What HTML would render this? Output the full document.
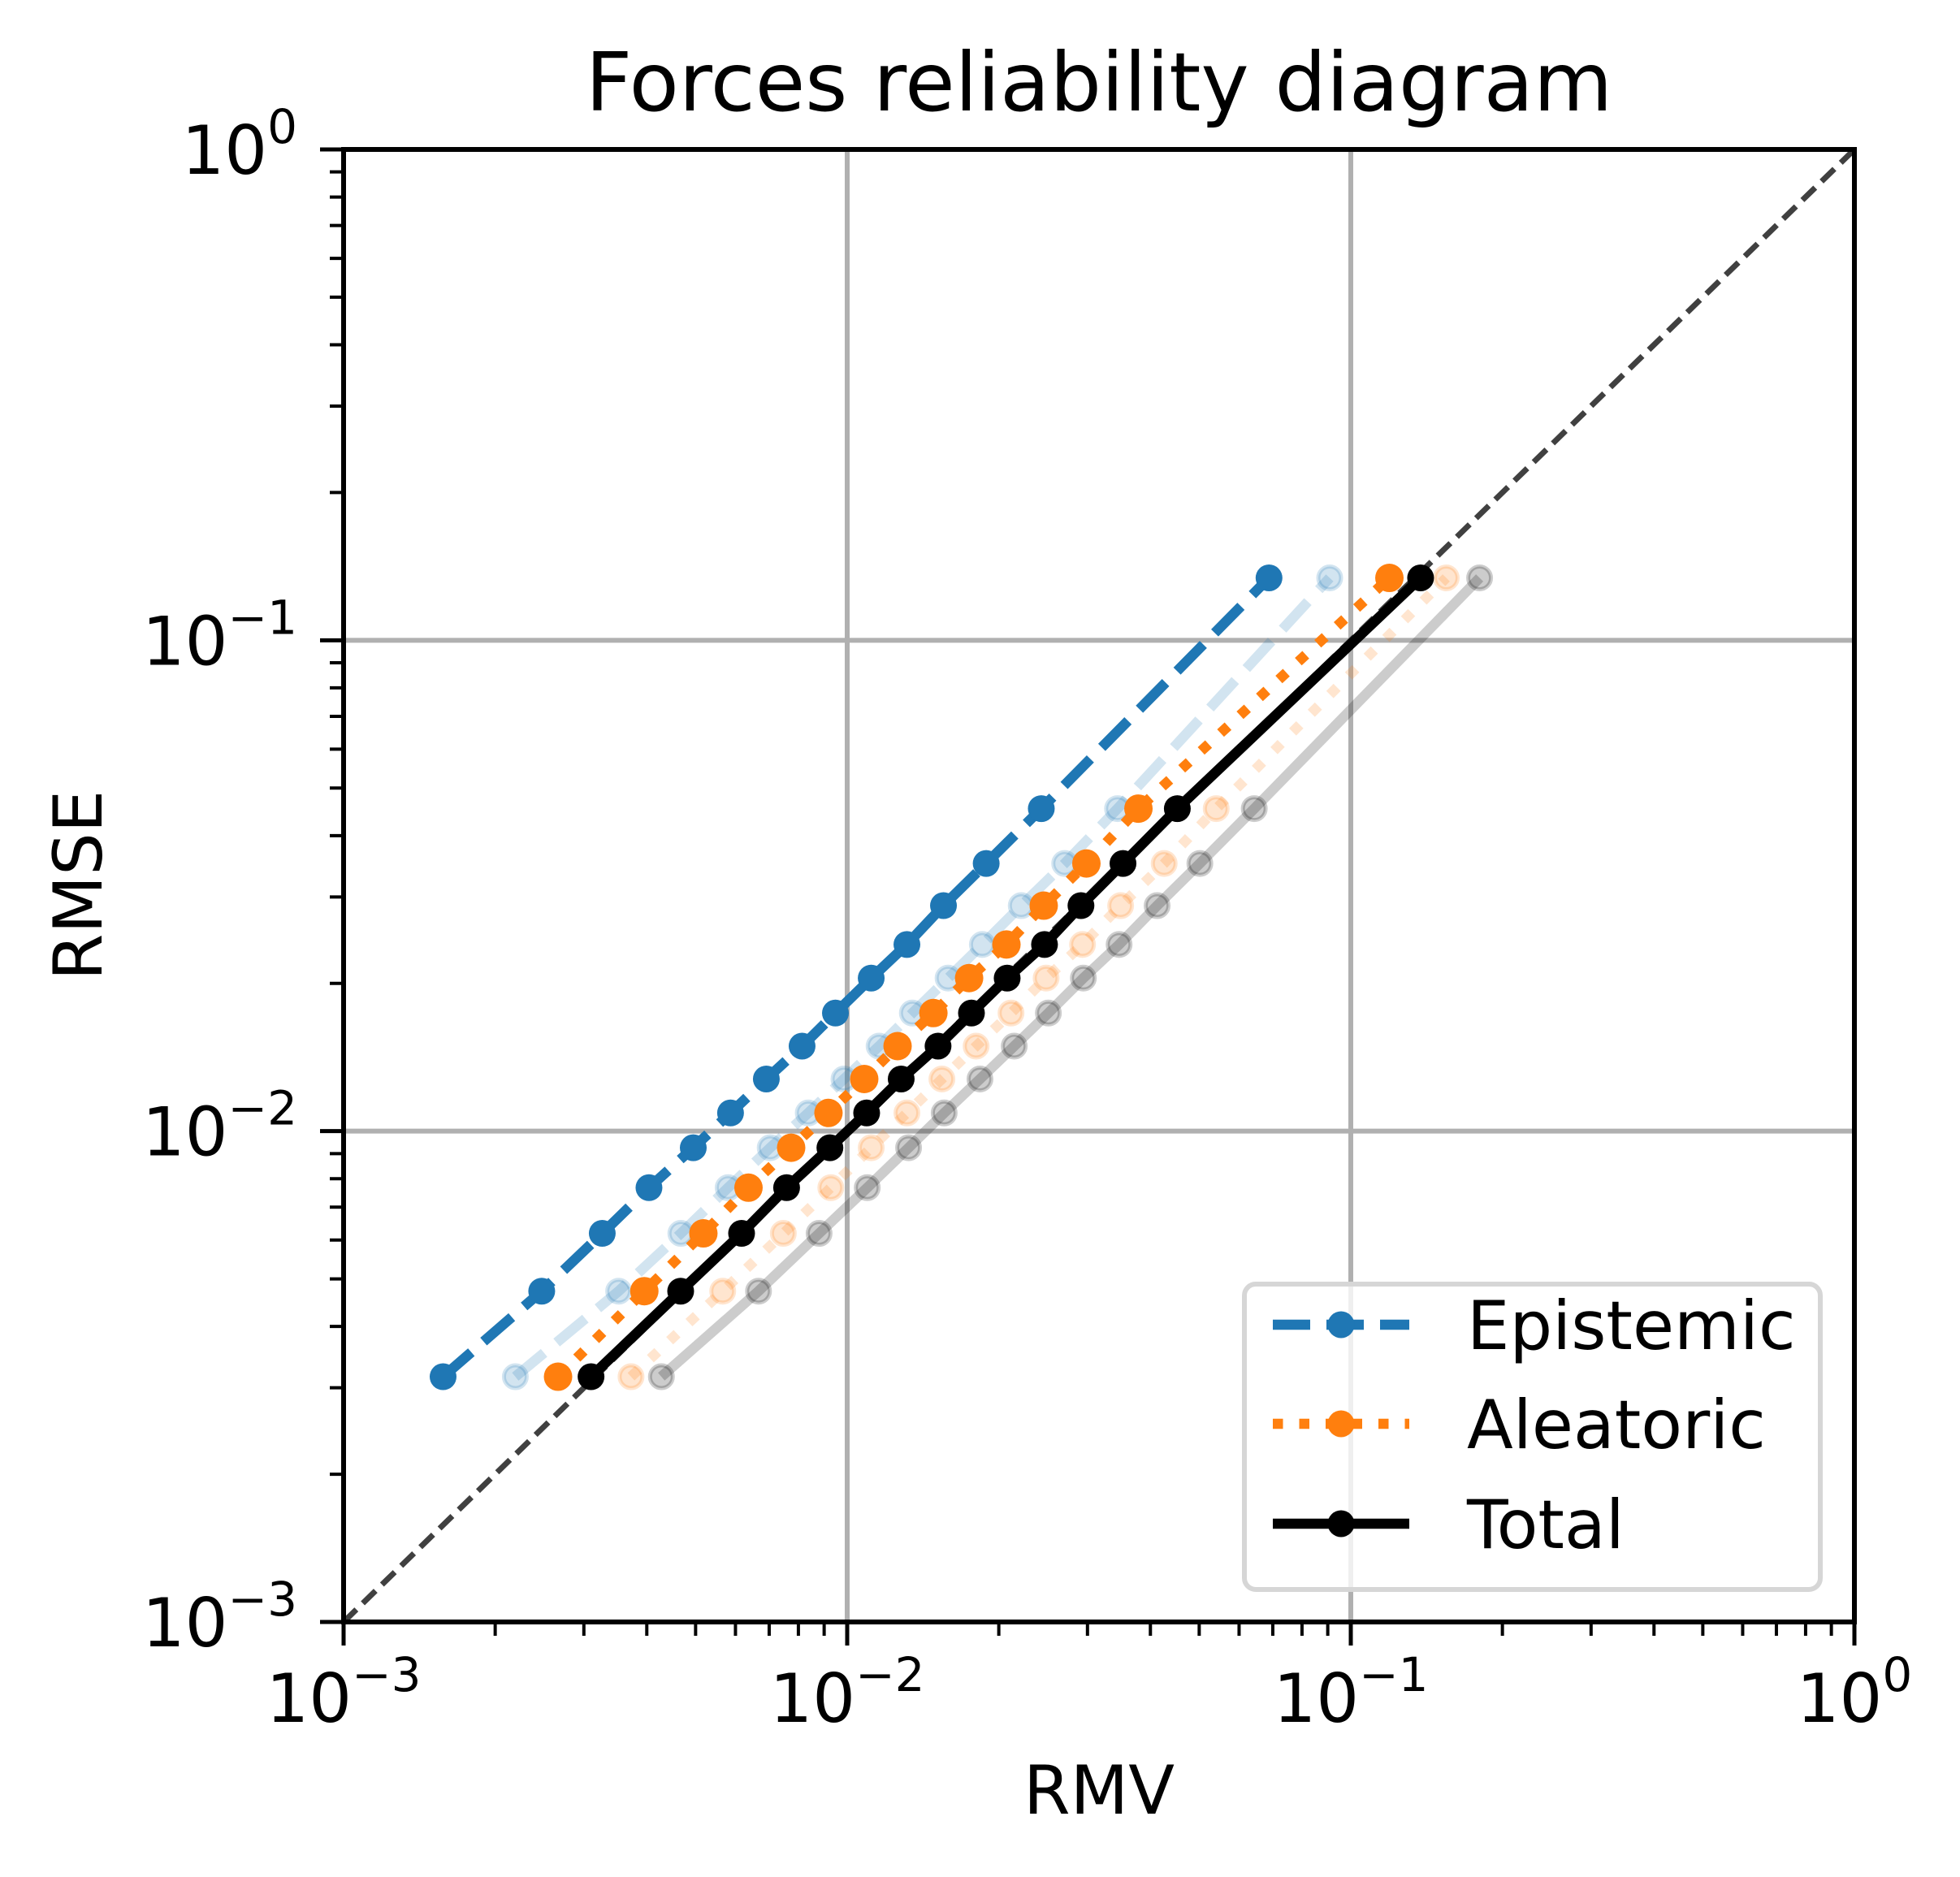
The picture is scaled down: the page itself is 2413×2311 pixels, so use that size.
<!DOCTYPE html>
<html><head><meta charset="utf-8"><style>
html,body{margin:0;padding:0;background:#fff;}
svg{display:block;font-family:"DejaVu Sans","Liberation Sans",sans-serif;}
</style></head><body>
<svg id="chart" width="2413" height="2311" viewBox="0 0 2413 2311" xmlns="http://www.w3.org/2000/svg">
<rect width="2413" height="2311" fill="#fff"/>
<text x="1353" y="136" font-size="100" text-anchor="middle">Forces reliability diagram</text>
<text x="1353" y="2233" font-size="83" text-anchor="middle">RMV</text>
<text transform="translate(125,1090) rotate(-90)" font-size="83" text-anchor="middle">RMSE</text>
<g id="grid"></g>
<g id="plot"></g>
<g id="axes"></g>
<g id="legend"></g>
</svg>
<script>
const rmse = [0.00316,0.00472,0.00619,0.00767,0.00925,0.01089,0.01277,0.0149,0.0174,0.0205,0.0240,0.0288,0.0351,0.0454,0.134];
const rmvEpistemic = [0.001576,0.002474,0.003263,0.00404,0.004947,0.005866,0.006909,0.008136,0.009476,0.01116,0.01314,0.01553,0.01888,0.02429,0.0688];
const rmvAleatoric = [0.002666,0.003955,0.005181,0.006368,0.007739,0.009179,0.01081,0.01259,0.01483,0.01746,0.02071,0.02456,0.02985,0.03787,0.1193];
const rmvTotal = [0.0031,0.00467,0.00617,0.00758,0.00924,0.01093,0.0128,0.01515,0.01765,0.02078,0.02465,0.02912,0.03529,0.04524,0.1376];
const rmvEpistemicCal = [0.002193,0.003517,0.004674,0.005802,0.007032,0.008369,0.009854,0.01157,0.01347,0.01586,0.01855,0.02216,0.02703,0.03442,0.0908];
const rmvAleatoricCal = [0.003722,0.00566,0.007467,0.009278,0.01116,0.01314,0.01542,0.01803,0.02115,0.02483,0.02933,0.03491,0.0426,0.05404,0.1547];
const rmvTotalCal = [0.004276,0.006667,0.008795,0.01096,0.01324,0.01558,0.01835,0.02146,0.02509,0.02944,0.03467,0.04125,0.05015,0.06431,0.1802];
const tickExps = [-3,-2,-1,0];
const tickLabels = ["\u22123","\u22122","\u22121","0"];

const NS="http://www.w3.org/2000/svg";
const X0=423,X1=2283,Y0=1997,Y1=184;
function xs(v){return X0+(Math.log10(v)+3)/3*(X1-X0);}
function ys(v){return Y0-(Math.log10(v)+3)/3*(Y0-Y1);}
function mk(tag,attrs,parent){const e=document.createElementNS(NS,tag);for(const k in attrs)e.setAttribute(k,attrs[k]);parent.appendChild(e);return e;}
const grid=document.getElementById('grid'),plot=document.getElementById('plot'),axes=document.getElementById('axes'),legend=document.getElementById('legend');

tickExps.forEach(function(e){
  const v=Math.pow(10,e);
  const gx=mk('line',{x1:xs(v),x2:xs(v),y1:Y1,y2:Y0,stroke:'#b0b0b0','stroke-width':6},grid);
  
  
  const gy=mk('line',{x1:X0,x2:X1,y1:ys(v),y2:ys(v),stroke:'#b0b0b0','stroke-width':6},grid);
  
  
});
const diag=mk('line',{x1:xs(0.001),y1:ys(0.001),x2:xs(1),y2:ys(1),stroke:'#404040','stroke-width':7,'stroke-dasharray':'22 11'},plot);



function series(xv,color,opts,name){
  const g=mk('g',{},plot);
  
  
  const pts=xv.map(function(v,i){return xs(v).toFixed(1)+','+ys(rmse[i]).toFixed(1);}).join(' ');
  const pl=mk('polyline',{points:pts,fill:'none',stroke:color,'stroke-width':12.5,'stroke-opacity':opts.op},g);
  if(opts.dash){pl.setAttribute('stroke-dasharray',opts.dash);}
  
  
  xv.forEach(function(v,i){
    const c=mk('circle',{cx:xs(v),cy:ys(rmse[i]),r:opts.r,fill:color,'fill-opacity':opts.op},g);
    if(opts.faded){c.setAttribute('stroke',color);c.setAttribute('stroke-opacity',opts.op);c.setAttribute('stroke-width',5);}
    
    
  });
}
series(rmvEpistemicCal,'#1f77b4',{op:0.2,dash:'46 20',r:14,faded:true},'epistemic-calibrated');
series(rmvAleatoricCal,'#ff7f0e',{op:0.2,dash:'12.5 20',r:14,faded:true},'aleatoric-calibrated');
series(rmvTotalCal,'#000000',{op:0.2,r:14,faded:true},'total-calibrated');
series(rmvEpistemic,'#1f77b4',{op:1,dash:'46 20',r:16.5},'epistemic-series');
series(rmvAleatoric,'#ff7f0e',{op:1,dash:'12.5 20',r:17.5},'aleatoric-series');
series(rmvTotal,'#000000',{op:1,r:16.5},'total-series');

const sp=mk('rect',{x:X0,y:Y1,width:X1-X0,height:Y0-Y1,fill:'none',stroke:'#000','stroke-width':6},axes);


for(let e=-3;e<=0;e++){
  for(let m=1;m<=9;m++){
    if(e===0&&m>1)break;
    const v=m*Math.pow(10,e);
    const len=m===1?29:17, w=m===1?5:4;
    const tx=mk('line',{x1:xs(v),x2:xs(v),y1:Y0,y2:Y0+len,stroke:'#000','stroke-width':w},axes);
    
    
    const ty=mk('line',{x1:X0,x2:X0-len,y1:ys(v),y2:ys(v),stroke:'#000','stroke-width':w},axes);
    
    
  }
}
tickExps.forEach(function(e,i){
  const v=Math.pow(10,e);
  const t=mk('text',{x:xs(v),y:2120,'font-size':83,'text-anchor':'middle'},axes);
  
  
  t.appendChild(document.createTextNode('10'));
  const s=mk('tspan',{dy:-38,'font-size':58},t);s.textContent=tickLabels[i];
  const u=mk('text',{x:366,y:ys(v)+30,'font-size':83,'text-anchor':'end'},axes);
  
  
  u.appendChild(document.createTextNode('10'));
  const s2=mk('tspan',{dy:-38,'font-size':58},u);s2.textContent=tickLabels[i];
});

const lb=mk('rect',{x:1532,y:1581,width:709,height:376,rx:14,fill:'#fff','fill-opacity':0.8,stroke:'#d6d6d6','stroke-width':6},legend);


const entries=[['Epistemic','#1f77b4','46 20',1631],['Aleatoric','#ff7f0e','12.5 20',1753],['Total','#000000','',1876]];
entries.forEach(function(en){
  const g=mk('g',{},legend);
  
  
  const l=mk('line',{x1:1567,x2:1735,y1:en[3],y2:en[3],stroke:en[1],'stroke-width':12.5},g);
  if(en[2])l.setAttribute('stroke-dasharray',en[2]);
  
  
  const c=mk('circle',{cx:1651,cy:en[3],r:16.5,fill:en[1]},g);
  
  
  const t=mk('text',{x:1806,y:en[3]+30,'font-size':83},g);
  t.textContent=en[0];
  
  
});
</script>
</body></html>
